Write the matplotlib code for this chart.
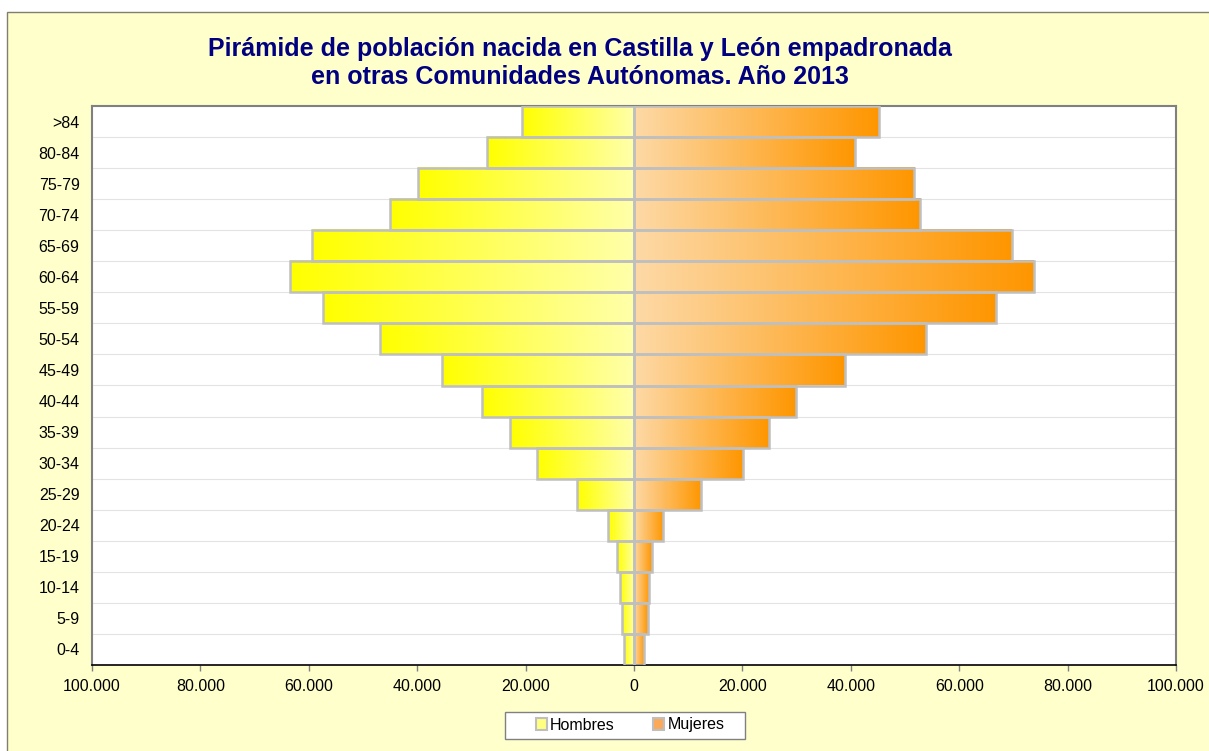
import numpy as np
import matplotlib
matplotlib.use('Agg')
import matplotlib.pyplot as plt
from matplotlib.patches import Patch, Rectangle
from matplotlib.colors import to_rgb
from matplotlib.ticker import FuncFormatter, FixedLocator

plt.rcParams['font.family'] = ['Liberation Sans', 'DejaVu Sans']

# Data (bottom to top)
grupos = ['0-4', '5-9', '10-14', '15-19', '20-24', '25-29', '30-34', '35-39',
          '40-44', '45-49', '50-54', '55-59', '60-64', '65-69', '70-74',
          '75-79', '80-84', '>84']
hombres = [1800, 2300, 2600, 3200, 4850, 10500, 17900, 22900,
           28000, 35400, 46900, 57400, 63500, 59400, 45000,
           39900, 27100, 20700]
mujeres = [1900, 2500, 2800, 3300, 5400, 12400, 20100, 24900,
           29900, 38900, 53900, 66800, 73800, 69700, 52800,
           51700, 40800, 45200]

W, H = 1209, 751
fig = plt.figure(figsize=(W / 100, H / 100), dpi=100)
fig.patch.set_facecolor('white')

# yellow background panel with border
fig.patches.append(Rectangle((7 / W, -0.1), 1.2, (H - 12) / H + 0.1,
                             transform=fig.transFigure, facecolor='#FFFFCC',
                             edgecolor='#7F7F6F', linewidth=1.0, zorder=-5))

ax = fig.add_axes([92 / W, 86 / H, 1084 / W, 559 / H])
ax.set_zorder(2)
ax.set_facecolor('white')


def gradient(c0, c1, n=256):
    a, b = np.array(to_rgb(c0)), np.array(to_rgb(c1))
    t = np.linspace(0, 1, n)[:, None]
    return (a + (b - a) * t)[None, :, :]


grad_h = gradient('#FFFF00', '#FFFFAA')
grad_m = gradient('#FDD9A6', '#FF9600')

y = np.arange(len(grupos))
for i, (h, m) in enumerate(zip(hombres, mujeres)):
    ax.imshow(grad_h, extent=(-h, 0, i - 0.5, i + 0.5), aspect='auto',
              interpolation='bilinear', zorder=2)
    ax.imshow(grad_m, extent=(0, m, i - 0.5, i + 0.5), aspect='auto',
              interpolation='bilinear', zorder=2)

ax.barh(y, [-v for v in hombres], height=1.0, facecolor='none',
        edgecolor='#BFBFBF', linewidth=1.8, zorder=3)
ax.barh(y, mujeres, height=1.0, facecolor='none',
        edgecolor='#BFBFBF', linewidth=1.8, zorder=3)

ax.set_xlim(-100000, 100000)
ax.set_ylim(-0.5, len(grupos) - 0.5)

ax.set_yticks(y)
ax.set_yticklabels(grupos)
ax.yaxis.set_minor_locator(FixedLocator(np.arange(0.5, len(grupos) - 1, 1)))
ax.grid(axis='y', which='minor', color='#E3E3E3', linewidth=0.8, zorder=1)
ax.tick_params(axis='y', which='both', length=0, labelsize=11.5, pad=9)

ax.set_xticks(np.arange(-100000, 100001, 20000))
ax.xaxis.set_major_formatter(FuncFormatter(
    lambda v, p: f"{abs(v):,.0f}".replace(',', '.')))
ax.tick_params(axis='x', length=4, width=1, color='#808080', labelsize=11.5, pad=6)

for s in ['top', 'right', 'left']:
    ax.spines[s].set_color('#808080')
    ax.spines[s].set_linewidth(1.5)
ax.spines['bottom'].set_color('#000000')
ax.spines['bottom'].set_linewidth(1.2)

fig.text(580 / W, 1 - 63 / H,
         'Pirámide de población nacida en Castilla y León empadronada\n'
         'en otras Comunidades Autónomas. Año 2013',
         ha='center', va='center', fontsize=18, fontweight='bold',
         color='#000080', linespacing=1.2)

# legend box
fig.patches.append(Rectangle((505 / W, 1 - 739 / H), 240 / W, 27 / H,
                             transform=fig.transFigure, facecolor='white',
                             edgecolor='#808080', linewidth=1.0, zorder=1))
handles = [Patch(facecolor='#FFFF80', edgecolor='#BFBFBF', linewidth=1.5),
           Patch(facecolor='#FBAA5A', edgecolor='#BFBFBF', linewidth=1.5)]
leg = fig.legend(handles, ['Hombres', 'Mujeres'], loc='center',
                 bbox_to_anchor=(630 / W, 1 - 725 / H), ncol=2,
                 fontsize=11.5, frameon=False,
                 handlelength=0.7, handleheight=0.7, handletextpad=0.2,
                 columnspacing=2.4, borderpad=0.2, borderaxespad=0)
leg.set_zorder(3)

fig.savefig('out.png', dpi=100, facecolor=fig.get_facecolor())
